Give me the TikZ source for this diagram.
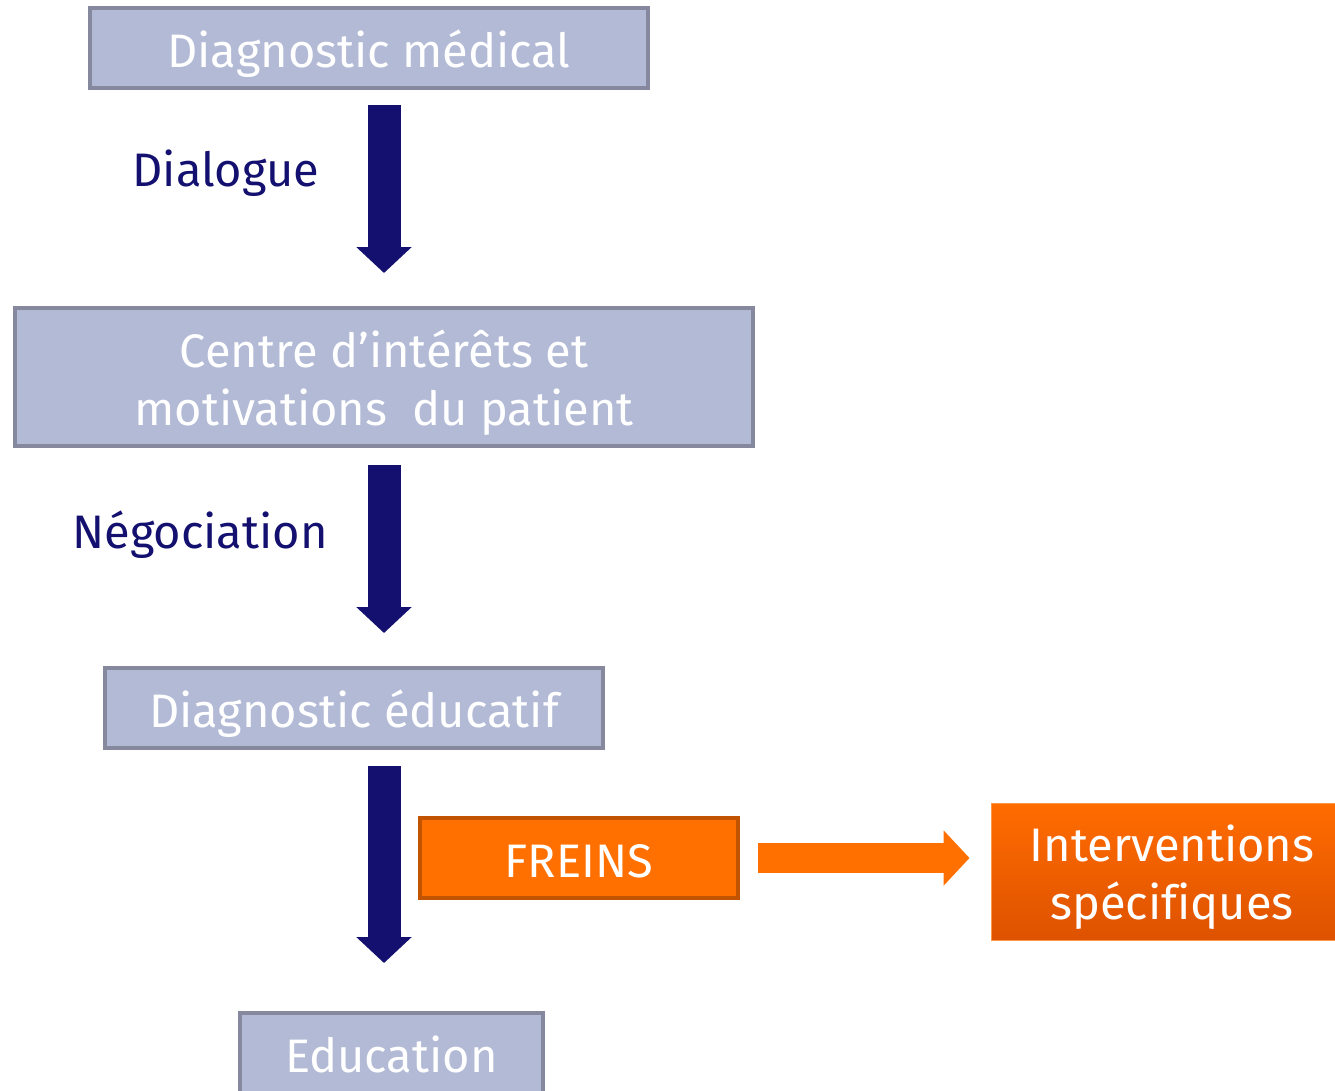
\documentclass[tikz,border=0pt]{standalone}
\usepackage{fontspec}
\setmainfont[Ligatures=NoCommon]{Fira Sans}
\usepackage{tikz}
\usetikzlibrary{arrows.meta,positioning,calc}
\definecolor{boxfill}{HTML}{B2BAD6}
\definecolor{boxline}{HTML}{86899D}
\definecolor{navy}{HTML}{13106F}
\definecolor{orange1}{HTML}{FF7000}
\definecolor{orangeline}{HTML}{C25300}
\definecolor{orangetop}{HTML}{FF6C00}
\definecolor{orangebot}{HTML}{DE5200}
\newcommand{\toprule}{\rule{0pt}{48pt}}

\begin{document}
\begin{tikzpicture}[x=1pt,y=-1pt,
    bigfont/.style={font=\fontsize{47}{58}\selectfont},
    oneline/.style={text height=50pt,text depth=12pt},
    stepbox/.style={draw=boxline,line width=4pt,fill=boxfill,text=white,
                    bigfont,align=center,inner sep=0pt},
    brakebox/.style={draw=orangeline,line width=4pt,fill=orange1,text=white,
                     bigfont,oneline,inner sep=0pt},
    downarrow/.style={navy,line width=33pt,-{Triangle[length=26pt,width=54pt]}},
    sidearrow/.style={orange1,line width=30pt,-{Triangle[length=26pt,width=54pt]}},
    steplabel/.style={text=navy,bigfont,oneline}]
  \useasboundingbox (0,0) rectangle (1335,1090);
  % boxes
  \node[stepbox,oneline,minimum width=558pt,minimum height=80pt] (medical) at (369,48)
       {Diagnostic médical};
  \node[stepbox,minimum width=738pt,minimum height=138pt] (interets) at (384,377)
       {\toprule Centre d’intérêts et\\motivations \ du patient};
  \node[stepbox,oneline,minimum width=498pt,minimum height=80pt] (educatif) at (354,708)
       {Diagnostic éducatif};
  \node[stepbox,oneline,minimum width=303pt,minimum height=80pt] (education) at (391.5,1053)
       {Education};
  \node[brakebox,minimum width=318pt,minimum height=80pt] (freins) at (579,858)
       {FREINS};
  \node[draw=orangetop!70!white,line width=1pt,top color=orangetop,bottom color=orangebot,
        text=white,bigfont,align=center,inner sep=0pt,
        minimum width=362pt,minimum height=137pt] (interventions) at (1172,871.5)
       {\toprule Interventions\\spécifiques};
  % labels
  \node[steplabel] (dialogue) at (226,167) {Dialogue};
  \node[steplabel] (negociation) at (200,529) {Négociation};
  % arrows
  \draw[downarrow,shorten <=15pt,shorten >=33pt] (medical.south -| interets.center)
       -- (interets.north);
  \draw[downarrow,shorten <=17pt,shorten >=33pt] (interets.south)
       -- (educatif.north -| interets.center);
  \draw[downarrow,shorten <=16pt,shorten >=48pt] (educatif.south -| interets.center)
       -- (education.north -| interets.center);
  \draw[sidearrow,shorten <=18pt,shorten >=21pt] (freins.east)
       -- (freins.east -| interventions.west);
\end{tikzpicture}
\end{document}
